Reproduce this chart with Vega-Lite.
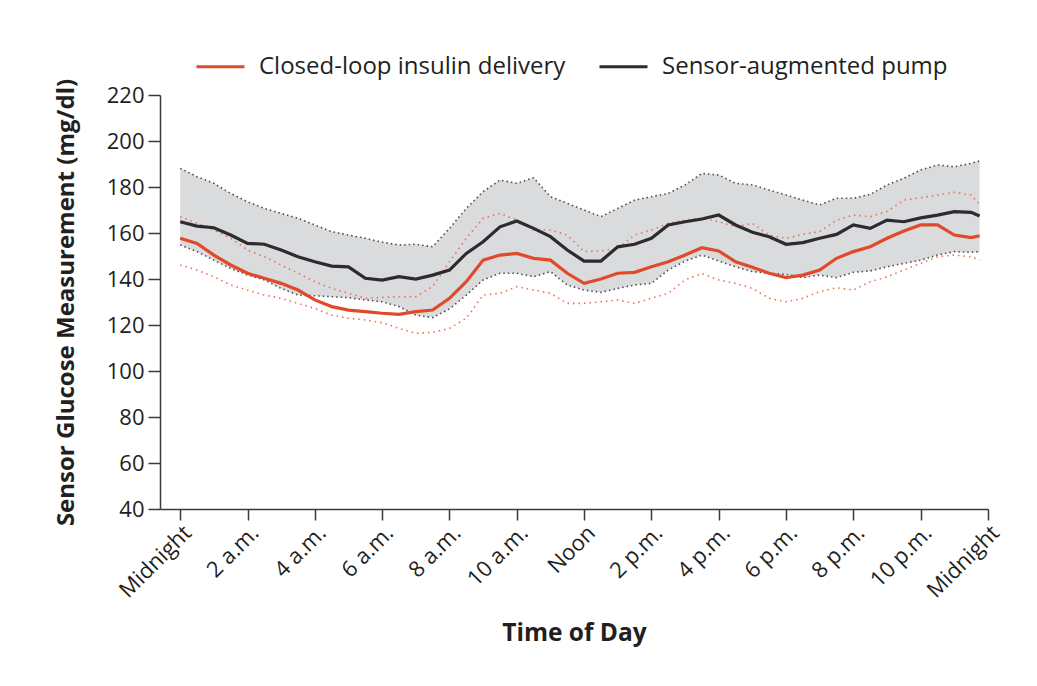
{
  "$schema": "https://vega.github.io/schema/vega-lite/v6.json",
  "width": 828,
  "height": 414,
  "autosize": {"type": "none"},
  "padding": {"left": 160, "top": 95, "right": 49, "bottom": 177},
  "background": "white",
  "config": {
    "view": {"stroke": null},
    "font": "Open Sans",
    "axis": {"grid": false, "labelColor": "#231f20", "titleColor": "#231f20", "domainColor": "#3a3a3a", "tickColor": "#3a3a3a", "domainWidth": 1.5, "tickWidth": 1.5, "labelFont": "Open Sans", "titleFont": "Open Sans"},
    "legend": {"labelFont": "Open Sans"}
  },
  "datasets": {
    "glucose": [
      {"hour": 0, "group": "Sensor-augmented pump", "median": 164.9, "q3": 188.1, "q1": 154.8},
      {"hour": 0.5, "group": "Sensor-augmented pump", "median": 163.0, "q3": 184.5, "q1": 151.9},
      {"hour": 1, "group": "Sensor-augmented pump", "median": 162.3, "q3": 181.6, "q1": 148.2},
      {"hour": 1.5, "group": "Sensor-augmented pump", "median": 159.1, "q3": 177.2, "q1": 144.6},
      {"hour": 2, "group": "Sensor-augmented pump", "median": 155.5, "q3": 173.6, "q1": 141.7},
      {"hour": 2.5, "group": "Sensor-augmented pump", "median": 155.1, "q3": 170.7, "q1": 139.6},
      {"hour": 3, "group": "Sensor-augmented pump", "median": 152.6, "q3": 168.5, "q1": 135.9},
      {"hour": 3.5, "group": "Sensor-augmented pump", "median": 149.7, "q3": 166.4, "q1": 133.0},
      {"hour": 4, "group": "Sensor-augmented pump", "median": 147.5, "q3": 163.5, "q1": 132.7},
      {"hour": 4.5, "group": "Sensor-augmented pump", "median": 145.6, "q3": 160.6, "q1": 132.3},
      {"hour": 5, "group": "Sensor-augmented pump", "median": 145.3, "q3": 159.1, "q1": 131.9},
      {"hour": 5.5, "group": "Sensor-augmented pump", "median": 140.3, "q3": 157.7, "q1": 130.9},
      {"hour": 6, "group": "Sensor-augmented pump", "median": 139.5, "q3": 156.0, "q1": 130.1},
      {"hour": 6.5, "group": "Sensor-augmented pump", "median": 141.0, "q3": 154.8, "q1": 128.0},
      {"hour": 7, "group": "Sensor-augmented pump", "median": 140.0, "q3": 155.1, "q1": 124.3},
      {"hour": 7.5, "group": "Sensor-augmented pump", "median": 141.7, "q3": 154.0, "q1": 123.2},
      {"hour": 8, "group": "Sensor-augmented pump", "median": 143.9, "q3": 162.0, "q1": 127.0},
      {"hour": 8.5, "group": "Sensor-augmented pump", "median": 151.1, "q3": 170.7, "q1": 133.0},
      {"hour": 9, "group": "Sensor-augmented pump", "median": 156.2, "q3": 178.0, "q1": 139.6},
      {"hour": 9.5, "group": "Sensor-augmented pump", "median": 162.7, "q3": 183.0, "q1": 142.5},
      {"hour": 10, "group": "Sensor-augmented pump", "median": 165.2, "q3": 181.6, "q1": 142.5},
      {"hour": 10.5, "group": "Sensor-augmented pump", "median": 162.0, "q3": 184.0, "q1": 141.0},
      {"hour": 11, "group": "Sensor-augmented pump", "median": 158.4, "q3": 175.8, "q1": 143.2},
      {"hour": 11.5, "group": "Sensor-augmented pump", "median": 152.6, "q3": 172.9, "q1": 137.4},
      {"hour": 12, "group": "Sensor-augmented pump", "median": 147.8, "q3": 170.0, "q1": 135.2},
      {"hour": 12.5, "group": "Sensor-augmented pump", "median": 147.8, "q3": 167.1, "q1": 134.2},
      {"hour": 13, "group": "Sensor-augmented pump", "median": 154.0, "q3": 170.7, "q1": 135.9},
      {"hour": 13.5, "group": "Sensor-augmented pump", "median": 155.1, "q3": 174.3, "q1": 137.4},
      {"hour": 14, "group": "Sensor-augmented pump", "median": 157.7, "q3": 175.8, "q1": 138.1},
      {"hour": 14.5, "group": "Sensor-augmented pump", "median": 163.5, "q3": 177.2, "q1": 143.9},
      {"hour": 15, "group": "Sensor-augmented pump", "median": 164.9, "q3": 180.9, "q1": 147.8},
      {"hour": 15.5, "group": "Sensor-augmented pump", "median": 166.1, "q3": 185.9, "q1": 150.4},
      {"hour": 16, "group": "Sensor-augmented pump", "median": 167.8, "q3": 185.2, "q1": 147.8},
      {"hour": 16.5, "group": "Sensor-augmented pump", "median": 163.5, "q3": 181.6, "q1": 145.3},
      {"hour": 17, "group": "Sensor-augmented pump", "median": 160.3, "q3": 180.9, "q1": 143.2},
      {"hour": 17.5, "group": "Sensor-augmented pump", "median": 158.4, "q3": 178.7, "q1": 142.5},
      {"hour": 18, "group": "Sensor-augmented pump", "median": 155.1, "q3": 176.5, "q1": 142.0},
      {"hour": 18.5, "group": "Sensor-augmented pump", "median": 155.8, "q3": 174.3, "q1": 140.6},
      {"hour": 19, "group": "Sensor-augmented pump", "median": 157.7, "q3": 172.2, "q1": 141.7},
      {"hour": 19.5, "group": "Sensor-augmented pump", "median": 159.4, "q3": 175.1, "q1": 140.6},
      {"hour": 20, "group": "Sensor-augmented pump", "median": 163.5, "q3": 175.1, "q1": 142.9},
      {"hour": 20.5, "group": "Sensor-augmented pump", "median": 162.0, "q3": 176.8, "q1": 143.5},
      {"hour": 21, "group": "Sensor-augmented pump", "median": 165.6, "q3": 180.9, "q1": 145.3},
      {"hour": 21.5, "group": "Sensor-augmented pump", "median": 164.9, "q3": 183.8, "q1": 146.8},
      {"hour": 22, "group": "Sensor-augmented pump", "median": 166.6, "q3": 187.4, "q1": 148.2},
      {"hour": 22.5, "group": "Sensor-augmented pump", "median": 167.8, "q3": 189.6, "q1": 150.4},
      {"hour": 23, "group": "Sensor-augmented pump", "median": 169.3, "q3": 188.8, "q1": 151.9},
      {"hour": 23.5, "group": "Sensor-augmented pump", "median": 169.0, "q3": 190.3, "q1": 151.6},
      {"hour": 23.75, "group": "Sensor-augmented pump", "median": 167.4, "q3": 191.3, "q1": 151.9},
      {"hour": 0, "group": "Closed-loop insulin delivery", "median": 157.7, "q3": 167.1, "q1": 146.1},
      {"hour": 0.5, "group": "Closed-loop insulin delivery", "median": 155.5, "q3": 164.2, "q1": 143.9},
      {"hour": 1, "group": "Closed-loop insulin delivery", "median": 150.4, "q3": 161.3, "q1": 141.0},
      {"hour": 1.5, "group": "Closed-loop insulin delivery", "median": 146.1, "q3": 157.7, "q1": 137.4},
      {"hour": 2, "group": "Closed-loop insulin delivery", "median": 142.5, "q3": 152.6, "q1": 135.2},
      {"hour": 2.5, "group": "Closed-loop insulin delivery", "median": 140.3, "q3": 149.7, "q1": 133.0},
      {"hour": 3, "group": "Closed-loop insulin delivery", "median": 138.1, "q3": 146.1, "q1": 131.6},
      {"hour": 3.5, "group": "Closed-loop insulin delivery", "median": 135.2, "q3": 142.5, "q1": 129.4},
      {"hour": 4, "group": "Closed-loop insulin delivery", "median": 130.9, "q3": 138.8, "q1": 127.2},
      {"hour": 4.5, "group": "Closed-loop insulin delivery", "median": 128.0, "q3": 135.9, "q1": 124.3},
      {"hour": 5, "group": "Closed-loop insulin delivery", "median": 126.5, "q3": 133.8, "q1": 122.9},
      {"hour": 5.5, "group": "Closed-loop insulin delivery", "median": 125.8, "q3": 131.6, "q1": 122.2},
      {"hour": 6, "group": "Closed-loop insulin delivery", "median": 125.1, "q3": 132.0, "q1": 121.0},
      {"hour": 6.5, "group": "Closed-loop insulin delivery", "median": 124.6, "q3": 132.3, "q1": 118.5},
      {"hour": 7, "group": "Closed-loop insulin delivery", "median": 125.8, "q3": 132.3, "q1": 116.4},
      {"hour": 7.5, "group": "Closed-loop insulin delivery", "median": 126.5, "q3": 136.7, "q1": 116.8},
      {"hour": 8, "group": "Closed-loop insulin delivery", "median": 131.6, "q3": 147.5, "q1": 118.5},
      {"hour": 8.5, "group": "Closed-loop insulin delivery", "median": 138.8, "q3": 157.7, "q1": 122.9},
      {"hour": 9, "group": "Closed-loop insulin delivery", "median": 148.2, "q3": 166.4, "q1": 133.0},
      {"hour": 9.5, "group": "Closed-loop insulin delivery", "median": 150.4, "q3": 168.5, "q1": 133.8},
      {"hour": 10, "group": "Closed-loop insulin delivery", "median": 151.1, "q3": 165.6, "q1": 136.7},
      {"hour": 10.5, "group": "Closed-loop insulin delivery", "median": 149.0, "q3": 161.3, "q1": 135.2},
      {"hour": 11, "group": "Closed-loop insulin delivery", "median": 148.2, "q3": 161.3, "q1": 133.8},
      {"hour": 11.5, "group": "Closed-loop insulin delivery", "median": 142.5, "q3": 159.1, "q1": 129.4},
      {"hour": 12, "group": "Closed-loop insulin delivery", "median": 138.1, "q3": 151.9, "q1": 129.4},
      {"hour": 12.5, "group": "Closed-loop insulin delivery", "median": 140.0, "q3": 152.2, "q1": 130.1},
      {"hour": 13, "group": "Closed-loop insulin delivery", "median": 142.5, "q3": 153.3, "q1": 130.9},
      {"hour": 13.5, "group": "Closed-loop insulin delivery", "median": 142.9, "q3": 159.1, "q1": 129.4},
      {"hour": 14, "group": "Closed-loop insulin delivery", "median": 145.3, "q3": 161.3, "q1": 131.6},
      {"hour": 14.5, "group": "Closed-loop insulin delivery", "median": 147.5, "q3": 164.2, "q1": 133.8},
      {"hour": 15, "group": "Closed-loop insulin delivery", "median": 150.4, "q3": 165.6, "q1": 139.6},
      {"hour": 15.5, "group": "Closed-loop insulin delivery", "median": 153.6, "q3": 166.4, "q1": 142.4},
      {"hour": 16, "group": "Closed-loop insulin delivery", "median": 152.2, "q3": 164.9, "q1": 139.6},
      {"hour": 16.5, "group": "Closed-loop insulin delivery", "median": 147.5, "q3": 162.7, "q1": 138.1},
      {"hour": 17, "group": "Closed-loop insulin delivery", "median": 145.1, "q3": 164.2, "q1": 135.9},
      {"hour": 17.5, "group": "Closed-loop insulin delivery", "median": 142.5, "q3": 159.1, "q1": 131.6},
      {"hour": 18, "group": "Closed-loop insulin delivery", "median": 140.6, "q3": 157.7, "q1": 130.1},
      {"hour": 18.5, "group": "Closed-loop insulin delivery", "median": 141.7, "q3": 159.4, "q1": 131.6},
      {"hour": 19, "group": "Closed-loop insulin delivery", "median": 143.9, "q3": 160.6, "q1": 134.5},
      {"hour": 19.5, "group": "Closed-loop insulin delivery", "median": 149.0, "q3": 165.6, "q1": 136.2},
      {"hour": 20, "group": "Closed-loop insulin delivery", "median": 151.9, "q3": 167.8, "q1": 135.2},
      {"hour": 20.5, "group": "Closed-loop insulin delivery", "median": 154.0, "q3": 167.1, "q1": 138.8},
      {"hour": 21, "group": "Closed-loop insulin delivery", "median": 157.7, "q3": 169.3, "q1": 141.0},
      {"hour": 21.5, "group": "Closed-loop insulin delivery", "median": 160.9, "q3": 174.3, "q1": 143.9},
      {"hour": 22, "group": "Closed-loop insulin delivery", "median": 163.5, "q3": 175.3, "q1": 146.8},
      {"hour": 22.5, "group": "Closed-loop insulin delivery", "median": 163.5, "q3": 176.5, "q1": 149.7},
      {"hour": 23, "group": "Closed-loop insulin delivery", "median": 159.1, "q3": 177.7, "q1": 150.4},
      {"hour": 23.5, "group": "Closed-loop insulin delivery", "median": 158.0, "q3": 176.5, "q1": 149.7},
      {"hour": 23.75, "group": "Closed-loop insulin delivery", "median": 158.8, "q3": 172.4, "q1": 148.2}
    ],
    "limits": [{"level": 180}, {"level": 70}]
  },
  "data": {"name": "glucose"},
  "encoding": {
    "x": {
      "field": "hour", "type": "quantitative",
      "scale": {"domain": [-0.6, 24], "nice": false, "zero": false},
      "axis": {
        "values": [0, 2, 4, 6, 8, 10, 12, 14, 16, 18, 20, 22, 24],
        "labelExpr": "datum.value == 0 || datum.value == 24 ? 'Midnight' : datum.value == 12 ? 'Noon' : datum.value < 12 ? datum.value + ' a.m.' : (datum.value - 12) + ' p.m.'",
        "labelAngle": -45, "labelAlign": "right", "labelBaseline": "top", "labelOverlap": false,
        "labelFontSize": 22, "labelPadding": 2, "tickSize": 11, "labelLimit": 0,
        "title": "Time of Day", "titleFontSize": 24.5, "titleFontWeight": "bold",
        "titleY": 131, "titleBaseline": "alphabetic"
      }
    }
  },
  "layer": [
    {
      "transform": [{"filter": "datum.group == 'Sensor-augmented pump'"}],
      "mark": {"type": "area", "color": "#dadbdd"},
      "encoding": {
        "y": {"field": "q3", "type": "quantitative",
          "scale": {"domain": [40, 220], "nice": false, "zero": false},
          "axis": {
            "values": [40, 60, 80, 100, 120, 140, 160, 180, 200, 220],
            "labelFontSize": 22, "labelPadding": 4, "tickSize": 12,
            "title": "Sensor Glucose Measurement (mg/dl)", "titleFontSize": 24, "titleFontWeight": "bold",
            "titleX": -87, "titleBaseline": "alphabetic"
          }
        },
        "y2": {"field": "q1"}
      }
    },
    {
      "data": {"name": "limits"},
      "mark": {"type": "rule", "color": "#666666", "strokeWidth": 2, "strokeDash": [11, 6]},
      "encoding": {
        "x": {"datum": -0.36},
        "x2": {"datum": 24},
        "y": {"field": "level", "type": "quantitative"}
      }
    },
    {
      "transform": [
        {"filter": "datum.group == 'Sensor-augmented pump'"},
        {"fold": ["q1", "q3"], "as": ["bound", "value"]}
      ],
      "mark": {"type": "line", "color": "#4d4d4d", "strokeWidth": 1.6, "strokeDash": [1.5, 3]},
      "encoding": {
        "y": {"field": "value", "type": "quantitative"},
        "detail": {"field": "bound"}
      }
    },
    {
      "transform": [
        {"filter": "datum.group == 'Closed-loop insulin delivery'"},
        {"fold": ["q1", "q3"], "as": ["bound", "value"]}
      ],
      "mark": {"type": "line", "color": "#eb6f55", "strokeWidth": 1.6, "strokeDash": [1.5, 4]},
      "encoding": {
        "y": {"field": "value", "type": "quantitative"},
        "detail": {"field": "bound"}
      }
    },
    {
      "mark": {"type": "line", "strokeWidth": 3.2},
      "encoding": {
        "y": {"field": "median", "type": "quantitative"},
        "color": {
          "field": "group", "type": "nominal",
          "scale": {"domain": ["Closed-loop insulin delivery", "Sensor-augmented pump"], "range": ["#e04a2b", "#2b2b30"]},
          "legend": {
            "title": null, "orient": "none", "direction": "horizontal",
            "legendX": 35, "legendY": -54, "padding": 0, "labelLimit": 0,
            "symbolType": "stroke", "symbolSize": 2304, "symbolStrokeWidth": 3,
            "labelFontSize": 24, "labelColor": "#231f20", "labelOffset": 13, "columnPadding": 27
          }
        }
      }
    }
  ]
}
